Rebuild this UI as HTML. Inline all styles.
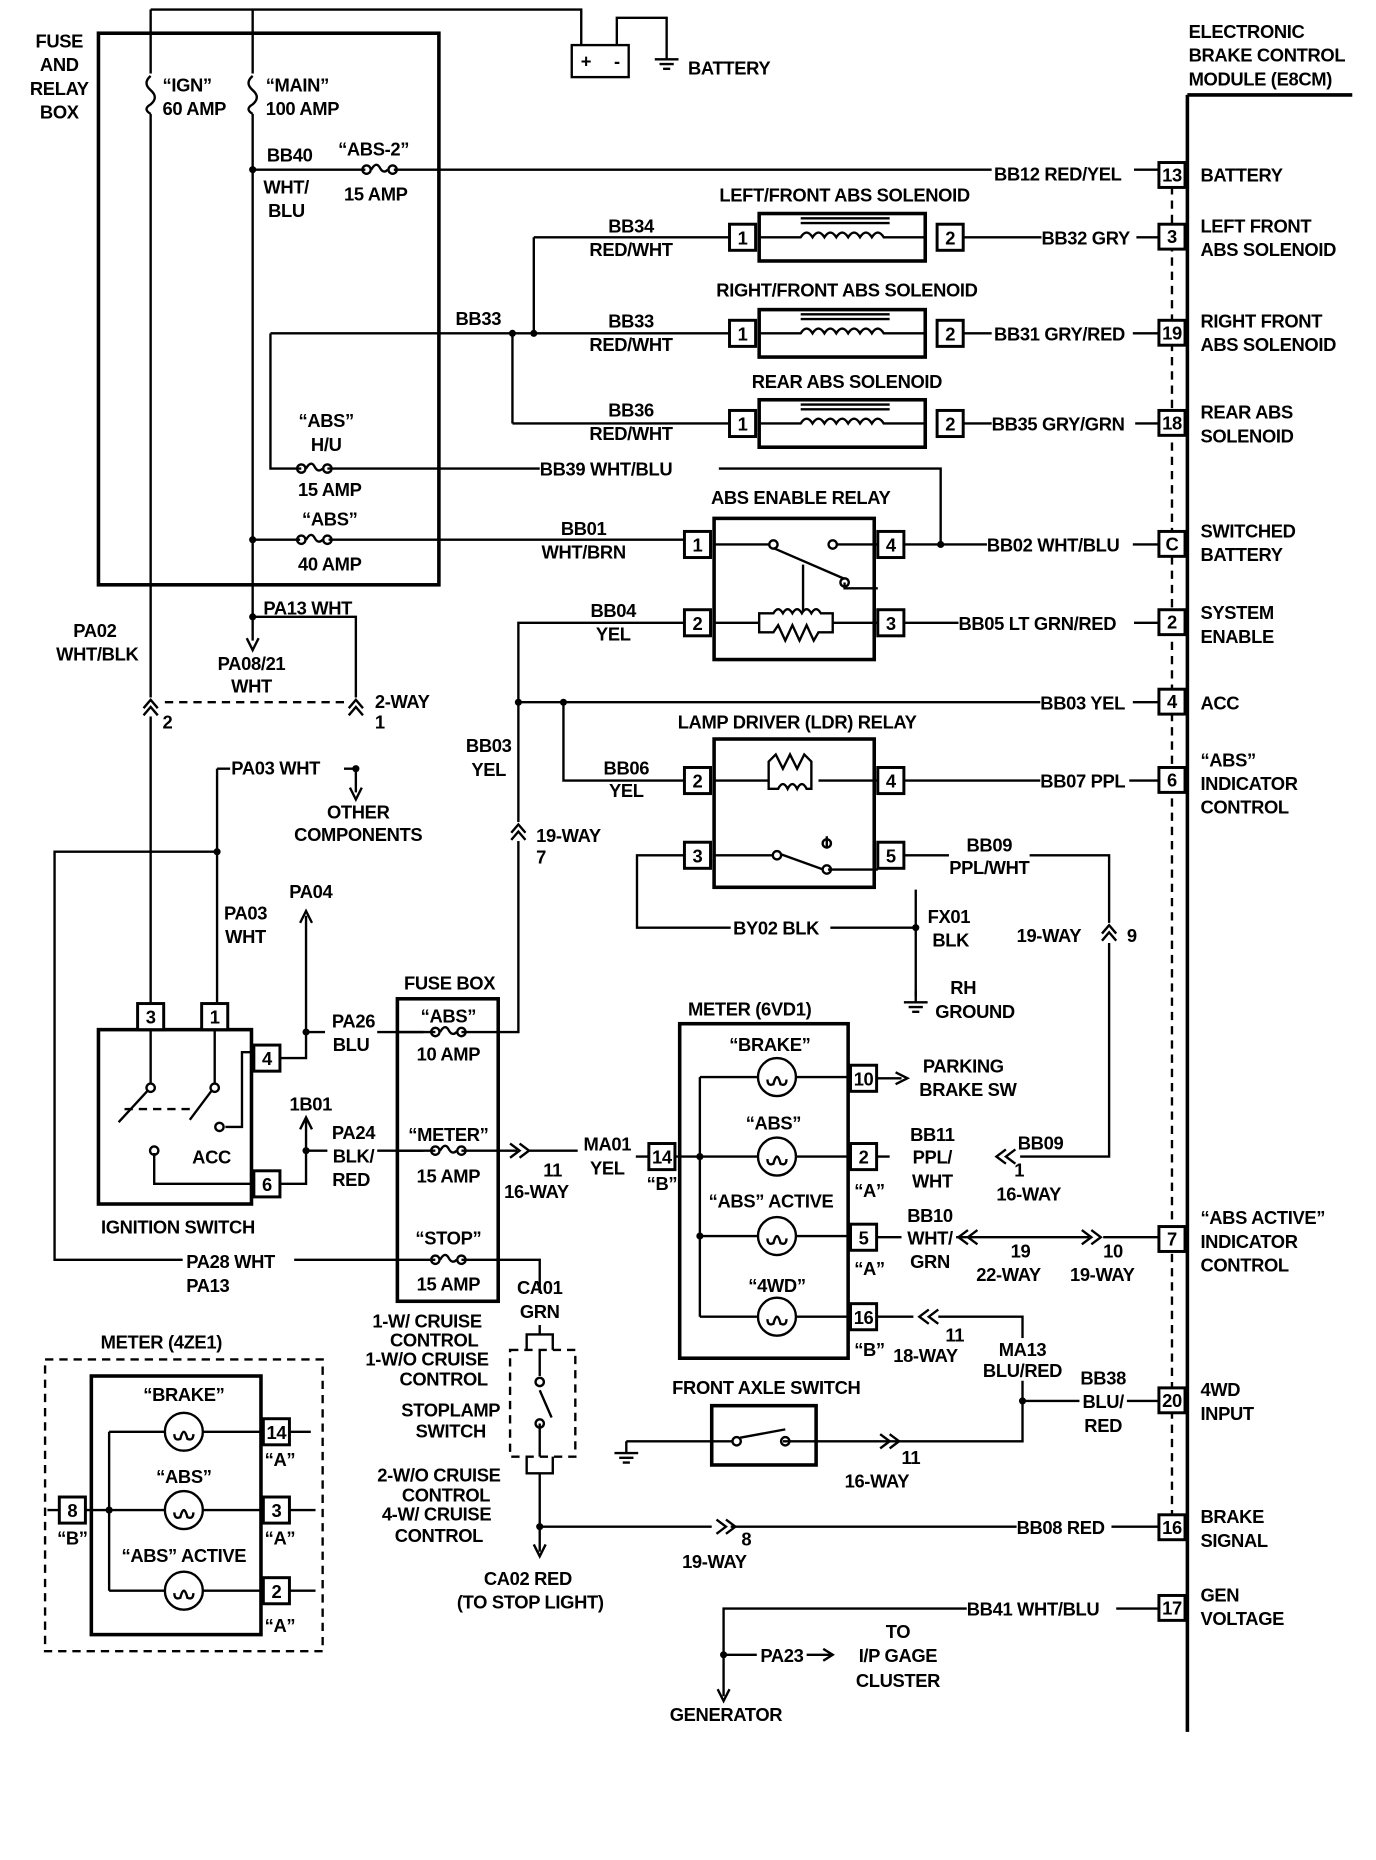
<!DOCTYPE html>
<html><head><meta charset="utf-8"><style>
html,body{margin:0;padding:0;background:#fff}
svg{display:block}
text{font-family:"Liberation Sans",sans-serif;font-weight:bold;font-size:15.5px;fill:#000;letter-spacing:-0.3px}
.m{text-anchor:middle}
.l{stroke:#000;stroke-width:2;fill:none}
.t{stroke:#000;stroke-width:3;fill:none}
.d{stroke:#000;stroke-width:2;fill:none;stroke-dasharray:7 5}
.p{stroke:#000;stroke-width:2.5;fill:#fff}
</style></head><body>
<svg width="1376" height="1860" viewBox="0 0 1160 1568" xmlns="http://www.w3.org/2000/svg">
<defs>
<g id="fh"><circle cx="-11" cy="0" r="3.5" class="l" fill="#fff"/><circle cx="11" cy="0" r="3.5" class="l" fill="#fff"/><path d="M-7,0 Q-3,-7 0,-2 Q3,4 7,0" class="l"/></g>
<g id="fv"><path d="M0,-16 Q-7,-10 0,-4 Q7,2 0,8 Q-7,12 0,16" class="l"/></g>
<g id="ch"><path d="M-6,5 L0,-2 L6,5 M-6,11 L0,4 L6,11" class="l"/></g>
<g id="lamp"><circle r="16" class="l" fill="#fff"/><path d="M-8,2 Q-8,8 -3,6 Q0,-6 3,6 Q8,8 8,2" class="l" stroke-width="1.5"/></g>
<g id="gnd"><path d="M0,0 V10 M-10,10 H10 M-6,14 H6 M-3,18 H3" class="l"/></g>
</defs>

<!-- Fuse and relay box -->
<rect x="83" y="28" width="287" height="465" class="t"/>
<text x="50" y="40" class="m">FUSE</text><text x="50" y="60" class="m">AND</text><text x="50" y="80" class="m">RELAY</text><text x="50" y="100" class="m">BOX</text>
<path d="M127,8 H490 V38 M520,38 V15 H562 V40" class="l"/>
<use href="#gnd" x="562" y="40"/>
<rect x="482" y="38" width="48" height="27" class="l"/>
<text x="494" y="57" class="m">+</text><text x="520" y="57" class="m">-</text>
<text x="580" y="63">BATTERY</text>
<path d="M127,8 V62 M127,96 V846" class="l"/>
<use href="#fv" x="127" y="80"/>
<text x="137" y="77">“IGN”</text><text x="137" y="97">60 AMP</text>
<path d="M213,8 V62 M213,96 V520" class="l"/>
<use href="#fv" x="213" y="80"/>
<text x="224" y="77">“MAIN”</text><text x="224" y="97">100 AMP</text>
<!-- ABS-2 -->
<path d="M213,143 H308 M332,143 H977" class="l"/>
<use href="#fh" x="320" y="143"/>
<circle cx="213" cy="143" r="3"/>
<text x="225" y="136">BB40</text><text x="222" y="163">WHT/</text><text x="226" y="183">BLU</text>
<text x="285" y="131">“ABS-2”</text><text x="290" y="169">15 AMP</text>
<rect x="836" y="134" width="120" height="18" fill="#fff"/>
<text x="838" y="152">BB12 RED/YEL</text>
<!-- ECBM -->
<path d="M1001,80 V1460 M1001,80 H1140" class="t"/>
<path d="M988,157 V1278" class="d"/>
<text x="1002" y="32">ELECTRONIC</text><text x="1002" y="52">BRAKE CONTROL</text><text x="1002" y="72">MODULE (E8CM)</text>
<g>
<rect x="977" y="137" width="22" height="21" class="p"/><text x="988" y="153" class="m">13</text><text x="1012" y="153">BATTERY</text>
<rect x="977" y="189" width="22" height="21" class="p"/><text x="988" y="205" class="m">3</text><text x="1012" y="196">LEFT FRONT</text><text x="1012" y="216">ABS SOLENOID</text>
<rect x="977" y="270" width="22" height="21" class="p"/><text x="988" y="286" class="m">19</text><text x="1012" y="276">RIGHT FRONT</text><text x="1012" y="296">ABS SOLENOID</text>
<rect x="977" y="346" width="22" height="21" class="p"/><text x="988" y="362" class="m">18</text><text x="1012" y="353">REAR ABS</text><text x="1012" y="373">SOLENOID</text>
<rect x="977" y="448" width="22" height="21" class="p"/><text x="988" y="464" class="m">C</text><text x="1012" y="453">SWITCHED</text><text x="1012" y="473">BATTERY</text>
<rect x="977" y="514" width="22" height="21" class="p"/><text x="988" y="530" class="m">2</text><text x="1012" y="522">SYSTEM</text><text x="1012" y="542">ENABLE</text>
<rect x="977" y="581" width="22" height="21" class="p"/><text x="988" y="597" class="m">4</text><text x="1012" y="598">ACC</text>
<rect x="977" y="647" width="22" height="21" class="p"/><text x="988" y="663" class="m">6</text><text x="1012" y="646">“ABS”</text><text x="1012" y="666">INDICATOR</text><text x="1012" y="686">CONTROL</text>
<rect x="977" y="1034" width="22" height="21" class="p"/><text x="988" y="1050" class="m">7</text><text x="1012" y="1032">“ABS ACTIVE”</text><text x="1012" y="1052">INDICATOR</text><text x="1012" y="1072">CONTROL</text>
<rect x="977" y="1170" width="22" height="21" class="p"/><text x="988" y="1186" class="m">20</text><text x="1012" y="1177">4WD</text><text x="1012" y="1197">INPUT</text>
<rect x="977" y="1277" width="22" height="21" class="p"/><text x="988" y="1293" class="m">16</text><text x="1012" y="1284">BRAKE</text><text x="1012" y="1304">SIGNAL</text>
<rect x="977" y="1345" width="22" height="21" class="p"/><text x="988" y="1361" class="m">17</text><text x="1012" y="1350">GEN</text><text x="1012" y="1370">VOLTAGE</text>
</g>
<!-- Solenoids -->
<g>
<path d="M450,200 H615 M812,200 H878 M958,200 H977" class="l"/>
<path d="M228,281 H615 M812,281 H836 M955,281 H977" class="l"/>
<path d="M432,357 H615 M812,357 H836 M957,357 H977" class="l"/>
<path d="M450,200 V281 M432,281 V357" class="l"/>
<circle cx="450" cy="281" r="3"/><circle cx="432" cy="281" r="3"/>
<text x="384" y="274">BB33</text>
<text x="532" y="196" class="m">BB34</text><text x="532" y="216" class="m">RED/WHT</text>
<text x="532" y="276" class="m">BB33</text><text x="532" y="296" class="m">RED/WHT</text>
<text x="532" y="351" class="m">BB36</text><text x="532" y="371" class="m">RED/WHT</text>
<text x="878" y="206">BB32 GRY</text><text x="838" y="287">BB31 GRY/RED</text><text x="836" y="363">BB35 GRY/GRN</text>
<text x="712" y="170" class="m">LEFT/FRONT ABS SOLENOID</text>
<text x="714" y="250" class="m">RIGHT/FRONT ABS SOLENOID</text>
<text x="714" y="327" class="m">REAR ABS SOLENOID</text>
<rect x="640" y="180" width="140" height="40" class="t"/><rect x="640" y="261" width="140" height="40" class="t"/><rect x="640" y="337" width="140" height="40" class="t"/>
<path d="M640,200 H675 Q680,192 685,200 Q690,192 695,200 Q700,192 705,200 Q710,192 715,200 Q720,192 725,200 Q730,192 735,200 Q740,192 745,200 H780 M675,188 H750 M675,184 H750" class="l" stroke-width="1.5"/>
<path d="M640,281 H675 Q680,273 685,281 Q690,273 695,281 Q700,273 705,281 Q710,273 715,281 Q720,273 725,281 Q730,273 735,281 Q740,273 745,281 H780 M675,269 H750 M675,265 H750" class="l" stroke-width="1.5"/>
<path d="M640,357 H675 Q680,349 685,357 Q690,349 695,357 Q700,349 705,357 Q710,349 715,357 Q720,349 725,357 Q730,349 735,357 Q740,349 745,357 H780 M675,345 H750 M675,341 H750" class="l" stroke-width="1.5"/>
<rect x="615" y="189" width="22" height="22" class="p"/><text x="626" y="206" class="m">1</text>
<rect x="790" y="189" width="22" height="22" class="p"/><text x="801" y="206" class="m">2</text>
<rect x="615" y="270" width="22" height="22" class="p"/><text x="626" y="287" class="m">1</text>
<rect x="790" y="270" width="22" height="22" class="p"/><text x="801" y="287" class="m">2</text>
<rect x="615" y="346" width="22" height="22" class="p"/><text x="626" y="363" class="m">1</text>
<rect x="790" y="346" width="22" height="22" class="p"/><text x="801" y="363" class="m">2</text>
</g>
<!-- ABS H/U & ABS fuses -->
<path d="M228,281 V395 H254 M276,395 H455 M606,395 H793 V459" class="l"/>
<use href="#fh" x="265" y="395"/>
<text x="275" y="360" class="m">“ABS”</text><text x="275" y="380" class="m">H/U</text><text x="278" y="418" class="m">15 AMP</text>
<text x="455" y="401">BB39 WHT/BLU</text>
<path d="M213,455 H253 M277,455 H577" class="l"/>
<use href="#fh" x="265" y="455"/>
<circle cx="213" cy="455" r="3"/>
<text x="278" y="443" class="m">“ABS”</text><text x="278" y="481" class="m">40 AMP</text>
<text x="492" y="451" class="m">BB01</text><text x="492" y="471" class="m">WHT/BRN</text>
<!-- ABS enable relay -->
<text x="675" y="425" class="m">ABS ENABLE RELAY</text>
<rect x="602" y="437" width="135" height="119" class="t"/>
<rect x="577" y="448" width="22" height="22" class="p"/><text x="588" y="465" class="m">1</text>
<rect x="740" y="448" width="22" height="22" class="p"/><text x="751" y="465" class="m">4</text>
<rect x="577" y="514" width="22" height="22" class="p"/><text x="588" y="531" class="m">2</text>
<rect x="740" y="514" width="22" height="22" class="p"/><text x="751" y="531" class="m">3</text>
<path d="M602,459 H648 M740,459 H706 M652,462 L712,488 M712,491 V496 H740 M677,476 V515 M602,525 H640 M702,525 H740" class="l"/>
<circle cx="652" cy="459" r="3.5" class="l" fill="#fff"/><circle cx="702" cy="459" r="3.5" class="l" fill="#fff"/><circle cx="712" cy="491" r="3.5" class="l" fill="#fff"/>
<path d="M640,525 V517 H652 Q656,510 660,517 Q664,510 668,517 Q672,510 676,517 Q680,510 684,517 Q688,510 692,517 H702 V525 M640,525 V533 H652 L656,527 L662,540 L668,527 L674,540 L680,527 L686,540 L690,533 H702 V525" class="l" stroke-width="1.5"/>
<path d="M762,459 H832 M955,459 H977" class="l"/><circle cx="793" cy="459" r="3"/>
<text x="832" y="465">BB02 WHT/BLU</text>
<path d="M762,525 H808 M956,525 H977" class="l"/>
<text x="808" y="531">BB05 LT GRN/RED</text>
<!-- BB04 / BB03 -->
<path d="M577,525 H437 V870 H420" class="l"/>
<text x="517" y="520" class="m">BB04</text><text x="517" y="540" class="m">YEL</text>
<path d="M437,592 H877 M955,592 H977" class="l"/><circle cx="437" cy="592" r="3"/><circle cx="475" cy="592" r="3"/>
<text x="877" y="598">BB03 YEL</text>
<text x="412" y="634" class="m">BB03</text><text x="412" y="654" class="m">YEL</text>
<rect x="430" y="693" width="14" height="16" fill="#fff"/>
<use href="#ch" x="437" y="697"/>
<text x="452" y="710">19-WAY</text><text x="452" y="728">7</text>
<!-- LDR relay -->
<path d="M475,592 V658 H577" class="l"/>
<text x="528" y="653" class="m">BB06</text><text x="528" y="672" class="m">YEL</text>
<text x="672" y="614" class="m">LAMP DRIVER (LDR) RELAY</text>
<rect x="602" y="623" width="135" height="125" class="t"/>
<rect x="577" y="647" width="22" height="22" class="p"/><text x="588" y="664" class="m">2</text>
<rect x="740" y="647" width="22" height="22" class="p"/><text x="751" y="664" class="m">4</text>
<rect x="577" y="710" width="22" height="22" class="p"/><text x="588" y="727" class="m">3</text>
<rect x="740" y="710" width="22" height="22" class="p"/><text x="751" y="727" class="m">5</text>
<path d="M602,658 H648 M690,658 H740 M648,658 V642 L654,636 L660,648 L666,636 L672,648 L678,636 L684,642 V658 M648,658 V665 H656 Q660,657 664,665 Q668,657 672,665 Q676,657 680,665 H684 V658" class="l" stroke-width="1.5"/>
<path d="M602,721 H652 M658,720 L694,733 M698,733 H740 M697,715 V705" class="l"/>
<circle cx="655" cy="721" r="3.5" class="l" fill="#fff"/><circle cx="697" cy="711" r="3.5" class="l" fill="#fff"/><circle cx="697" cy="733" r="3.5" class="l" fill="#fff"/>
<path d="M762,658 H877 M952,658 H977" class="l"/><text x="877" y="664">BB07 PPL</text>
<path d="M762,721 H800 M868,721 H935 V778 M935,795 V975 H860" class="l"/>
<text x="834" y="718" class="m">BB09</text><text x="834" y="737" class="m">PPL/WHT</text>
<use href="#ch" x="935" y="782"/><text x="950" y="794">9</text><text x="857" y="794">19-WAY</text>
<path d="M577,721 H537 V782 H616 M700,782 H772" class="l"/>
<text x="618" y="788">BY02 BLK</text>
<path d="M772,750 V840" class="l"/><circle cx="772" cy="782" r="3"/>
<use href="#gnd" x="772" y="835"/>
<text x="782" y="778">FX01</text><text x="786" y="798">BLK</text>
<text x="812" y="838" class="m">RH</text><text x="822" y="858" class="m">GROUND</text>
<!-- 2-way and PA lines -->
<path d="M213,520 V540 M213,520 H300 V592" class="l"/><circle cx="213" cy="520" r="3"/>
<path d="M208,538 L213,548 L218,538" class="l"/>
<text x="222" y="518">PA13 WHT</text>
<text x="212" y="565" class="m">PA08/21</text><text x="212" y="584" class="m">WHT</text>
<text x="80" y="537" class="m">PA02</text><text x="82" y="557" class="m">WHT/BLK</text>
<path d="M127,592 H300" class="d"/>
<rect x="120" y="588" width="14" height="16" fill="#fff"/><use href="#ch" x="127" y="592"/>
<rect x="293" y="588" width="14" height="16" fill="#fff"/><use href="#ch" x="300" y="592"/>
<text x="137" y="614">2</text><text x="316" y="597">2-WAY</text><text x="316" y="614">1</text>
<path d="M183,648 H194 M290,648 H300 V668" class="l"/><circle cx="300" cy="648" r="3"/>
<path d="M295,664 L300,674 L305,664" class="l"/>
<text x="195" y="653">PA03 WHT</text>
<text x="302" y="690" class="m">OTHER</text><text x="302" y="709" class="m">COMPONENTS</text>
<path d="M183,648 V846 M183,718 H46 V1062 H154 M248,1062 H335" class="l"/><circle cx="183" cy="718" r="3"/>
<text x="207" y="775" class="m">PA03</text><text x="207" y="795" class="m">WHT</text>
<text x="157" y="1069">PA28 WHT</text><text x="157" y="1089">PA13</text>
<!-- Ignition switch -->
<rect x="83" y="868" width="129" height="147" class="t"/>
<rect x="116" y="846" width="22" height="22" class="p"/><text x="127" y="863" class="m">3</text>
<rect x="170" y="846" width="22" height="22" class="p"/><text x="181" y="863" class="m">1</text>
<rect x="214" y="881" width="22" height="22" class="p"/><text x="225" y="898" class="m">4</text>
<rect x="214" y="987" width="22" height="22" class="p"/><text x="225" y="1004" class="m">6</text>
<path d="M127,868 V914 M181,868 V914 M124,920 L100,946 M178,920 L160,944 M190,950 H204 V887 H214 M130,972 V998 H214" class="l"/>
<path d="M105,935 H165" class="d" stroke-width="1.5"/>
<circle cx="127" cy="917" r="3.5" class="l" fill="#fff"/><circle cx="181" cy="917" r="3.5" class="l" fill="#fff"/><circle cx="185" cy="950" r="3.5" class="l" fill="#fff"/><circle cx="130" cy="970" r="3.5" class="l" fill="#fff"/>
<text x="162" y="981">ACC</text>
<text x="150" y="1040" class="m">IGNITION SWITCH</text>
<path d="M236,892 H258 V870 H274 M236,998 H258 V970 H276 M258,870 V772 M318,870 H357 M318,970 H357" class="l"/>
<path d="M253,778 L258,768 L263,778 M253,952 L258,942 L263,952 M258,944 V970" class="l"/>
<circle cx="258" cy="870" r="3"/><circle cx="258" cy="970" r="3"/>
<text x="262" y="757" class="m">PA04</text>
<text x="298" y="866" class="m">PA26</text><text x="296" y="886" class="m">BLU</text>
<text x="262" y="936" class="m">1B01</text>
<text x="298" y="960" class="m">PA24</text><text x="298" y="980" class="m">BLK/</text><text x="296" y="1000" class="m">RED</text>
<!-- Fuse box -->
<text x="379" y="834" class="m">FUSE BOX</text>
<rect x="335" y="842" width="85" height="255" class="t"/>
<use href="#fh" x="378" y="870"/><use href="#fh" x="378" y="970"/><use href="#fh" x="378" y="1062"/>
<path d="M335,870 H367 M389,870 H420 M335,970 H367 M389,970 H436 M335,1062 H367 M389,1062 H455 V1090" class="l"/>
<text x="378" y="862" class="m">“ABS”</text><text x="378" y="894" class="m">10 AMP</text>
<text x="378" y="962" class="m">“METER”</text><text x="378" y="997" class="m">15 AMP</text>
<text x="378" y="1049" class="m">“STOP”</text><text x="378" y="1088" class="m">15 AMP</text>
<path d="M430,964 L438,970 L430,976 M438,964 L446,970 L438,976 M446,970 H487" class="l"/>
<text x="458" y="992">11</text><text x="425" y="1010">16-WAY</text>
<text x="512" y="970" class="m">MA01</text><text x="512" y="990" class="m">YEL</text>
<path d="M536,975 H547" class="l"/>
<!-- Meter 6VD1 -->
<text x="632" y="856" class="m">METER (6VD1)</text>
<rect x="573" y="863" width="142" height="282" class="t"/>
<rect x="547" y="964" width="22" height="22" class="p"/><text x="558" y="981" class="m">14</text><text x="558" y="1003" class="m">“B”</text>
<path d="M569,975 H639 M671,975 H717 M590,908 V1110 M590,908 H639 M671,908 H717 M590,1042 H639 M671,1042 H717 M590,1110 H639 M671,1110 H717" class="l"/>
<circle cx="590" cy="975" r="3"/><circle cx="590" cy="1042" r="3"/>
<use href="#lamp" x="655" y="908"/><use href="#lamp" x="655" y="975"/><use href="#lamp" x="655" y="1042"/><use href="#lamp" x="655" y="1110"/>
<text x="649" y="886" class="m">“BRAKE”</text><text x="652" y="952" class="m">“ABS”</text><text x="650" y="1018" class="m">“ABS” ACTIVE</text><text x="655" y="1089" class="m">“4WD”</text>
<rect x="717" y="898" width="22" height="22" class="p"/><text x="728" y="915" class="m">10</text>
<rect x="717" y="964" width="22" height="22" class="p"/><text x="728" y="981" class="m">2</text><text x="733" y="1009" class="m">“A”</text>
<rect x="717" y="1032" width="22" height="22" class="p"/><text x="728" y="1049" class="m">5</text><text x="733" y="1075" class="m">“A”</text>
<rect x="717" y="1099" width="22" height="22" class="p"/><text x="728" y="1116" class="m">16</text><text x="733" y="1143" class="m">“B”</text>
<path d="M739,909 H760 M739,975 H750 M739,1043 H760 M739,1110 H770" class="l"/>
<path d="M755,904 L765,909 L755,914" class="l"/>
<text x="778" y="904">PARKING</text><text x="775" y="924">BRAKE SW</text>
<text x="786" y="962" class="m">BB11</text><text x="786" y="981" class="m">PPL/</text><text x="786" y="1001" class="m">WHT</text>
<path d="M848,969 L840,975 L848,981 M856,969 L848,975 L856,981" class="l"/>
<text x="858" y="969">BB09</text><text x="855" y="992">1</text><text x="840" y="1012">16-WAY</text>
<text x="784" y="1030" class="m">BB10</text><text x="784" y="1049" class="m">WHT/</text><text x="784" y="1069" class="m">GRN</text>
<path d="M806,1043 H918 M930,1043 H977 M816,1037 L808,1043 L816,1049 M824,1037 L816,1043 L824,1049 M912,1037 L920,1043 L912,1049 M920,1037 L928,1043 L920,1049" class="l"/>
<text x="852" y="1060">19</text><text x="823" y="1080">22-WAY</text><text x="930" y="1060">10</text><text x="902" y="1080">19-WAY</text>
<path d="M783,1104 L775,1110 L783,1116 M791,1104 L783,1110 L791,1116 M791,1110 H862 V1215 H760" class="l"/>
<text x="797" y="1131">11</text><text x="753" y="1148">18-WAY</text>
<rect x="828" y="1128" width="70" height="36" fill="#fff"/>
<text x="862" y="1143" class="m">MA13</text><text x="862" y="1161" class="m">BLU/RED</text>
<path d="M862,1181 H910 M950,1181 H977" class="l"/><circle cx="862" cy="1181" r="3"/>
<text x="930" y="1167" class="m">BB38</text><text x="930" y="1187" class="m">BLU/</text><text x="930" y="1207" class="m">RED</text>
<!-- Front axle switch -->
<text x="646" y="1175" class="m">FRONT AXLE SWITCH</text>
<rect x="600" y="1185" width="88" height="50" class="t"/>
<path d="M528,1215 H618 M660,1215 H688 M624,1212 L662,1205 M688,1215 H760" class="l"/>
<circle cx="621" cy="1215" r="3.5" class="l" fill="#fff"/><circle cx="662" cy="1215" r="3.5" class="l" fill="#fff"/>
<use href="#gnd" x="528" y="1215"/>
<path d="M742,1209 L750,1215 L742,1221 M750,1209 L758,1215 L750,1221" class="l"/>
<text x="760" y="1234">11</text><text x="712" y="1254">16-WAY</text>
<!-- Stoplamp switch -->
<text x="455" y="1091" class="m">CA01</text><text x="455" y="1111" class="m">GRN</text>
<path d="M455,1117 V1125 H444 V1138 M455,1125 H466 V1138" class="l"/>
<rect x="430" y="1138" width="55" height="90" class="d" stroke-width="2.5"/>
<path d="M455,1138 V1160 M455,1172 L465,1195 M455,1200 V1228 M444,1228 V1242 H466 V1228 M455,1242 V1308" class="l"/>
<circle cx="455" cy="1165" r="3.5" class="l" fill="#fff"/><circle cx="455" cy="1200" r="3.5" class="l" fill="#fff"/>
<text x="360" y="1119" class="m">1-W/ CRUISE</text><text x="366" y="1135" class="m">CONTROL</text>
<text x="360" y="1151" class="m">1-W/O CRUISE</text><text x="374" y="1168" class="m">CONTROL</text>
<text x="380" y="1194" class="m">STOPLAMP</text><text x="380" y="1212" class="m">SWITCH</text>
<text x="370" y="1249" class="m">2-W/O CRUISE</text><text x="376" y="1266" class="m">CONTROL</text>
<text x="368" y="1282" class="m">4-W/ CRUISE</text><text x="370" y="1300" class="m">CONTROL</text>
<path d="M450,1302 L455,1312 L460,1302 M455,1287 H600 M616,1287 H857 M937,1287 H977" class="l"/><circle cx="455" cy="1287" r="3"/>
<path d="M604,1281 L612,1287 L604,1293 M612,1281 L620,1287 L612,1293" class="l"/>
<text x="625" y="1303">8</text><text x="575" y="1322">19-WAY</text>
<text x="857" y="1293">BB08 RED</text>
<text x="445" y="1336" class="m">CA02 RED</text><text x="447" y="1356" class="m">(TO STOP LIGHT)</text>
<!-- Generator -->
<path d="M977,1356 H941 M815,1356 H610 V1430 M605,1424 L610,1434 L615,1424 M610,1395 H638 M680,1395 H700 M694,1390 L702,1395 L694,1400" class="l"/>
<circle cx="610" cy="1395" r="3"/>
<text x="815" y="1362">BB41 WHT/BLU</text>
<text x="641" y="1401">PA23</text>
<text x="757" y="1381" class="m">TO</text><text x="757" y="1401" class="m">I/P GAGE</text><text x="757" y="1422" class="m">CLUSTER</text>
<text x="612" y="1451" class="m">GENERATOR</text>
<!-- Meter 4ZE1 -->
<text x="136" y="1137" class="m">METER (4ZE1)</text>
<rect x="38" y="1146" width="234" height="246" class="d"/>
<rect x="77" y="1160" width="143" height="218" class="t"/>
<rect x="50" y="1262" width="22" height="22" class="p"/><text x="61" y="1279" class="m">8</text><text x="61" y="1302" class="m">“B”</text>
<path d="M40,1273 H50 M72,1273 H139 M171,1273 H222 M92,1207 V1341 M92,1207 H139 M171,1207 H222 M92,1341 H139 M171,1341 H222 M244,1207 H262 M244,1273 H266 M244,1341 H266" class="l"/>
<circle cx="92" cy="1273" r="3"/>
<use href="#lamp" x="155" y="1207"/><use href="#lamp" x="155" y="1273"/><use href="#lamp" x="155" y="1341"/>
<text x="155" y="1181" class="m">“BRAKE”</text><text x="155" y="1250" class="m">“ABS”</text><text x="155" y="1317" class="m">“ABS” ACTIVE</text>
<rect x="222" y="1196" width="22" height="22" class="p"/><text x="233" y="1213" class="m">14</text><text x="236" y="1236" class="m">“A”</text>
<rect x="222" y="1262" width="22" height="22" class="p"/><text x="233" y="1279" class="m">3</text><text x="236" y="1302" class="m">“A”</text>
<rect x="222" y="1330" width="22" height="22" class="p"/><text x="233" y="1347" class="m">2</text><text x="236" y="1376" class="m">“A”</text>
</svg>
</body></html>
